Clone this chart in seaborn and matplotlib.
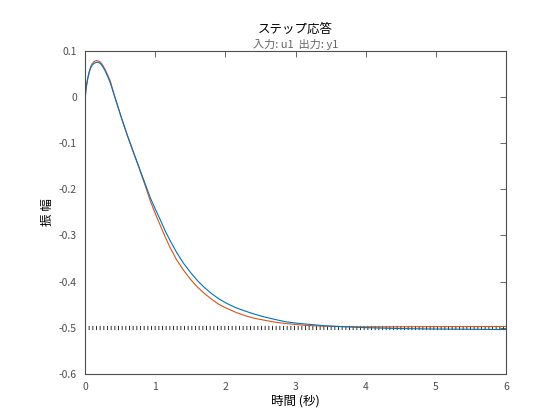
import numpy as np
import pandas as pd
import seaborn as sns
import matplotlib.pyplot as plt

# step response
t_model = [0, 0.005, 0.01, 0.02, 0.04, 0.06, 0.08, 0.10, 0.13, 0.16, 0.19, 0.22, 0.25, 0.28,
           0.32, 0.36, 0.41, 0.46, 0.52, 0.6, 0.68, 0.76, 0.84, 0.93, 1.0, 1.07, 1.14, 1.21,
           1.3, 1.4, 1.5, 1.6, 1.7, 1.8, 1.9, 2.0, 2.15, 2.28, 2.42, 2.56, 2.7, 2.85, 3.0,
           3.13, 3.28, 3.42, 3.7, 4.0, 4.5, 5.0, 5.5, 6.0]
y_model = [-0.02, 0.0, 0.015, 0.027, 0.043, 0.055, 0.063, 0.069, 0.073, 0.075, 0.075, 0.072,
           0.066, 0.058, 0.045, 0.030, 0.006, -0.018, -0.046, -0.082, -0.116, -0.149, -0.182,
           -0.219, -0.243, -0.266, -0.290, -0.311, -0.336, -0.360, -0.380, -0.398, -0.413,
           -0.426, -0.437, -0.446, -0.457, -0.464, -0.471, -0.477, -0.482, -0.487, -0.490,
           -0.492, -0.494, -0.496, -0.498, -0.500, -0.502, -0.503, -0.5035, -0.504]

t_true = [0, 0.01, 0.02, 0.04, 0.06, 0.08, 0.10, 0.13, 0.16, 0.19, 0.22, 0.25, 0.28, 0.32,
          0.36, 0.41, 0.46, 0.52, 0.6, 0.68, 0.76, 0.84, 0.93, 1.0, 1.07, 1.14, 1.21, 1.3,
          1.4, 1.5, 1.6, 1.7, 1.8, 1.9, 2.0, 2.15, 2.28, 2.42, 2.56, 2.7, 2.85, 3.0, 3.13,
          3.28, 3.42, 3.7, 4.0, 4.5, 5.0, 6.0]
y_true = [0, 0.012, 0.023, 0.041, 0.055, 0.066, 0.072, 0.077, 0.079, 0.078, 0.075, 0.069,
          0.061, 0.048, 0.034, 0.007, -0.017, -0.047, -0.083, -0.117, -0.150, -0.185, -0.226,
          -0.253, -0.278, -0.303, -0.326, -0.352, -0.375, -0.395, -0.412, -0.426, -0.438,
          -0.449, -0.457, -0.467, -0.474, -0.480, -0.484, -0.488, -0.491, -0.493, -0.495,
          -0.496, -0.497, -0.4978, -0.4982, -0.498, -0.4978, -0.4975]

final_value = -0.5
xticks = [0, 1, 2, 3, 4, 5, 6]
yticks = [0.1, 0, -0.1, -0.2, -0.3, -0.4, -0.5, -0.6]

df = pd.concat([
    pd.DataFrame({"t": t_model, "y": y_model, "sys": "model"}),
    pd.DataFrame({"t": t_true, "y": y_true, "sys": "true"}),
])

sns.set_theme(style="white")
plt.rcParams["font.family"] = ["Noto Sans CJK JP", "DejaVu Sans"]
plt.rcParams["axes.unicode_minus"] = False

fig = plt.figure(figsize=(5.6, 4.2), dpi=100)
ax = fig.add_axes([0.152, 0.110, 0.752, 0.769])

sns.lineplot(data=df, x="t", y="y", hue="sys", palette={"model": "#0072BD", "true": "#D95319"},
             hue_order=["true", "model"], estimator=None, sort=False, linewidth=0.8,
             legend=False, ax=ax)

# final value marker line (MATLAB dotted look)
ax.axhline(final_value, color="#333333", linewidth=3.0, ls=(0, (0.24, 0.64)),
           dash_capstyle="butt", zorder=1)

ax.set_xlim(0, 6)
ax.set_ylim(-0.6, 0.1)
ax.set_xticks(xticks)
ax.set_yticks(yticks)
ax.set_xticklabels([str(v) for v in xticks])
ax.set_yticklabels(["0.1", "0", "-0.1", "-0.2", "-0.3", "-0.4", "-0.5", "-0.6"])
ax.tick_params(direction="in", length=4, width=0.6, colors="#4d4d4d", labelsize=7.5,
               top=True, right=True, pad=6)
for s in ax.spines.values():
    s.set_color("#4d4d4d")
    s.set_linewidth(0.8)

ax.set_xlabel("時間 (秒)", fontsize=9, color="black", labelpad=2)
ax.set_ylabel("振 幅", fontsize=9, color="black", labelpad=3)
fig.text(0.528, 0.930, "ステップ応答", ha="center", va="center", fontsize=9, color="black")
fig.text(0.528, 0.893, "入力: u1  出力: y1", ha="center", va="center", fontsize=8, color="#666666")

fig.savefig("out.png", dpi=100)
